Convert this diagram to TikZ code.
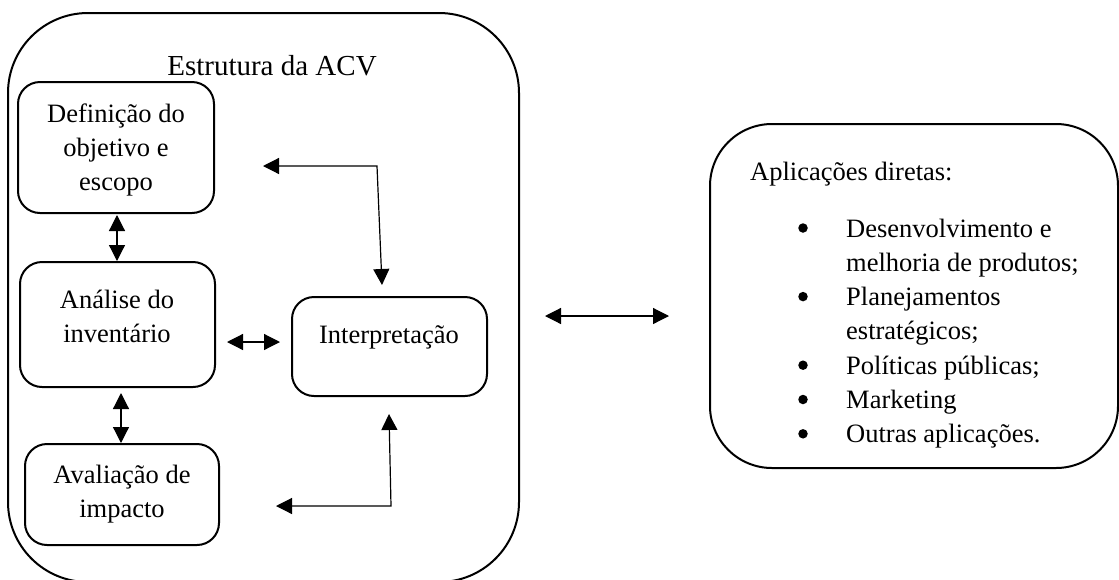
\documentclass[tikz,border=0pt]{standalone}
\usepackage{fontspec}
\setmainfont{Liberation Serif}
\usetikzlibrary{arrows.meta,calc}

\tikzset{
  frame/.style={draw, line width=2pt, rectangle, inner sep=0pt, outer sep=0pt},
  stagebox/.style={frame, rounded corners=22pt},
  bodytext/.style={font=\fontsize{26.5}{34}\selectfont, align=center, inner sep=0pt},
  titletext/.style={font=\fontsize{29}{35}\selectfont, inner sep=0pt},
  itemtext/.style={font=\fontsize{26.5}{34}\selectfont, inner sep=0pt, anchor=base west},
  bulletdot/.style={circle, fill, inner sep=0pt, minimum size=9.5pt},
  twoway/.style={line width=1.2pt,
    {Triangle[length=16pt,width=16pt]}-{Triangle[length=16pt,width=16pt]}}
}

\begin{document}
\begin{tikzpicture}[x=1pt,y=-1pt]
\useasboundingbox (0,0) rectangle (1119,579);

% LCA framework container
\node[frame, rounded corners=80pt, minimum width=511pt, minimum height=569pt]
  (outer) at (263.5,297.5) {};
\node[titletext] (title) at (272,65.5) {Estrutura da ACV};

% stages
\node[stagebox, minimum width=196pt, minimum height=131pt] (b1) at (116,147.5) {};
\node[stagebox, minimum width=195pt, minimum height=125pt] (b2) at (117.5,324.5) {};
\node[stagebox, minimum width=194pt, minimum height=101pt] (b3) at (122,494.5) {};
\node[stagebox, minimum width=195pt, minimum height=99pt]  (b4) at (389.5,346.5) {};

\node[bodytext] (t1) at (116,150) {Definição do\\objetivo e\\escopo};
\node[bodytext] (t2) at (117,316) {Análise do\\inventário};
\node[bodytext] (t3) at (122,494) {Avaliação de\\impacto};
\node[bodytext] (t4) at (389,337) {Interpretação};

% links between stages
\draw[twoway] ($(b1.south)+(1,2)$) -- ($(b2.north)+(-0.5,-1)$);
\draw[twoway] ($(b2.south)+(3.5,6)$) -- ($(b3.north)+(-1,-1)$);
\draw[twoway] ($(b2.east |- b4.west)+(12,-4.5)$) -- ($(b4.west)+(-12,-4.5)$);

% interpretation feedback loops
\coordinate (upTip) at ($(b1.east)+(49,18.5)$);
\coordinate (upBend) at (377,166);
\draw[twoway] (upTip) -- (upBend) -- ($(b4.north)+(-7.5,-12)$);

\coordinate (lowTip) at ($(b3.east)+(57,11.5)$);
\coordinate (lowBend) at (391,506);
\draw[twoway] (lowTip) -- (lowBend) -- ($(b4.south)+(-0.5,18)$);

% applications
\node[frame, rounded corners=62pt, minimum width=408pt, minimum height=344pt]
  (app) at (914,296) {};
\draw[twoway] ($(outer.east)+(26,18.5)$) -- ($(app.west)+(-41,20)$);

\node[itemtext] (apphead) at (750,180) {Aplicações diretas:};

\node[itemtext] (i1a) at (846,237)   {Desenvolvimento e};
\node[itemtext] (i1b) at (846,271.3) {melhoria de produtos;};
\node[itemtext] (i2a) at (846,305.6) {Planejamentos};
\node[itemtext] (i2b) at (846,339.9) {estratégicos;};
\node[itemtext] (i3)  at (846,374.2) {Políticas públicas;};
\node[itemtext] (i4)  at (846,408.5) {Marketing};
\node[itemtext] (i5)  at (846,442.8) {Outras aplicações.};

\node[bulletdot] (d1) at (803,228)   {};
\node[bulletdot] (d2) at (803,296.6) {};
\node[bulletdot] (d3) at (803,365.2) {};
\node[bulletdot] (d4) at (803,399.5) {};
\node[bulletdot] (d5) at (803,433.8) {};
\end{tikzpicture}
\end{document}
